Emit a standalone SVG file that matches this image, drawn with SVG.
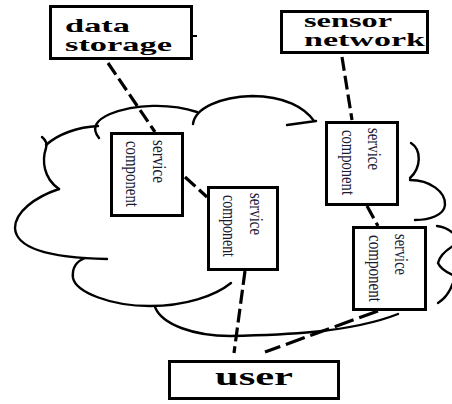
<svg xmlns="http://www.w3.org/2000/svg" width="452" height="404" viewBox="0 0 452 404">
<style>
.cloud{fill:none;stroke:#000;stroke-width:2.4;stroke-linecap:round}
.box{fill:#fff;stroke:#000;stroke-width:3}
.big{font-family:"Liberation Serif","Times New Roman",serif;font-weight:bold;fill:#000}
.sc{font-family:"Liberation Serif","Times New Roman",serif;font-size:19px;fill:#1a1a33}
.dash{fill:none;stroke:#000;stroke-width:3.2;stroke-dasharray:14 5}
</style>
<rect width="452" height="404" fill="#fff"/>
<g id="cloud">
<path class="cloud" d="M99,138 C91,128 96,120 110,114 C135,104 170,103 197,112"/>
<path class="cloud" d="M98,126 C78,127 58,134 46,145"/>
<path class="cloud" d="M42,137 Q48,142 46,148 C42,160 43,178 59,189"/>
<path class="cloud" d="M59,189 C35,197 15,212 15,228 C16,250 55,258 107,259"/>
<path class="cloud" d="M85,258 C75,262 72,270 73,278 C76,292 110,306 150,306 C185,306 215,296 231,283"/>
<path class="cloud" d="M155,307 C162,325 195,336 230,336 C280,335 350,333 398,314"/>
<path class="cloud" d="M193,124 C195,108 220,97 252,96 C285,96 305,108 314,121 M287,125 L316,121"/>
<path class="cloud" d="M411,143 C422,150 421,168 410,178"/>
<path class="cloud" d="M410,180 C430,180 446,192 445,205 C444,215 430,220 415,220"/>
<path class="cloud" d="M437,226 Q446,227 453,233"/>
<path class="cloud" d="M453,246 Q440,254 438,263 Q441,270 453,275"/>
<path class="cloud" d="M453,283 Q448,297 438,303"/>
</g>
<g id="connectors">
<path class="dash" d="M108,63 L155,132"/>
<path class="dash" d="M185,177 L207,197"/>
<path class="dash" d="M342,57 L352,120"/>
<path class="dash" d="M367,206 L378,226"/>
<path class="dash" d="M245,271 L234,353"/>
<path class="dash" d="M378,311 L265,352" style="stroke-dasharray:20 6"/>
</g>
<g id="data-storage">
<rect class="box" x="50.5" y="6.5" width="141" height="52"/>
<path d="M193,36 L197,36" stroke="#000" stroke-width="2"/>
<text class="big" font-size="19" x="65" y="32" textLength="65" lengthAdjust="spacingAndGlyphs">data</text>
<text class="big" font-size="19" x="65" y="51" textLength="107" lengthAdjust="spacingAndGlyphs">storage</text>
</g>
<g id="sensor-network">
<rect class="box" x="281.5" y="11.5" width="146" height="41"/>
<text class="big" font-size="18" x="304" y="27" textLength="88" lengthAdjust="spacingAndGlyphs">sensor</text>
<text class="big" font-size="18" x="304" y="45.5" textLength="121" lengthAdjust="spacingAndGlyphs">network</text>
</g>
<g id="user">
<rect class="box" x="169.5" y="361.5" width="169" height="37"/>
<text class="big" font-size="25" x="215" y="385" textLength="78" lengthAdjust="spacingAndGlyphs">user</text>
</g>
<g id="service-component-1">
<rect class="box" x="111.5" y="133.5" width="71" height="82"/>
<text class="sc" transform="translate(153,140) rotate(90)" textLength="43" lengthAdjust="spacingAndGlyphs">service</text>
<text class="sc" transform="translate(126,141) rotate(90)" textLength="66" lengthAdjust="spacingAndGlyphs">component</text>
</g>
<g id="service-component-2">
<rect class="box" x="208.5" y="187.5" width="69" height="82"/>
<text class="sc" transform="translate(250,193) rotate(90)" textLength="42" lengthAdjust="spacingAndGlyphs">service</text>
<text class="sc" transform="translate(223,195) rotate(90)" textLength="62" lengthAdjust="spacingAndGlyphs">component</text>
</g>
<g id="service-component-3">
<rect class="box" x="326.5" y="122.5" width="71" height="82"/>
<text class="sc" transform="translate(368,128) rotate(90)" textLength="42" lengthAdjust="spacingAndGlyphs">service</text>
<text class="sc" transform="translate(342,130) rotate(90)" textLength="65" lengthAdjust="spacingAndGlyphs">component</text>
</g>
<g id="service-component-4">
<rect class="box" x="353.5" y="227.5" width="72" height="82"/>
<text class="sc" transform="translate(395,234) rotate(90)" textLength="41" lengthAdjust="spacingAndGlyphs">service</text>
<text class="sc" transform="translate(369,235) rotate(90)" textLength="67" lengthAdjust="spacingAndGlyphs">component</text>
</g>
</svg>
